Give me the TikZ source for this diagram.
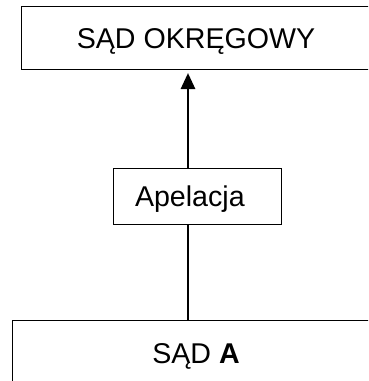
\documentclass[tikz,border=0pt]{standalone}
\usepackage{fontspec}
\setmainfont{Liberation Sans}
\usetikzlibrary{arrows.meta}
\tikzset{
	box/.style={draw=black, line width=1pt, inner sep=0pt, text height=20.5pt, text depth=0pt, font=\fontsize{28.6}{34}\selectfont},
	link/.style={line width=2.7pt},
}

\begin{document}
\begin{tikzpicture}[x=1pt, y=-1pt]
			%%%%% START %%%%%
			
			\path[use as bounding box, clip] (0, 0) rectangle (368, 381);
			
			\node[box, minimum width=350pt, minimum height=63pt] (okregowy) at (196, 38) {SĄD OKRĘGOWY};
			\node[box, text width=124pt, inner xsep=22pt, align=left, minimum height=56pt] (apelacja) at (197, 196) {Apelacja};
			\node[box, minimum width=368pt, minimum height=66pt] (sadA) at (196, 353) {SĄD \textbf{A}};
			
			\coordinate (axis) at (188, 0);
			
			\draw[link, -{Triangle[width=14pt, length=16pt]}] (apelacja.north -| axis) -- ([yshift=-3pt]okregowy.south -| axis);
			\draw[link] (sadA.north -| axis) -- (apelacja.south -| axis);
			
			%%%%% END %%%%%
		\end{tikzpicture}
\end{document}
